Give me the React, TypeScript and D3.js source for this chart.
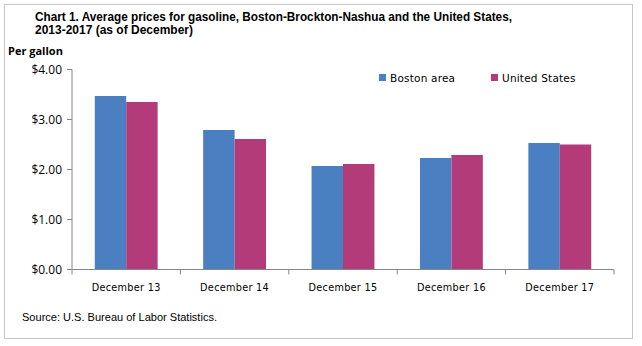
import React from "react";
import * as d3 from "d3";

const categories = ["December 13", "December 14", "December 15", "December 16", "December 17"];
const seriesNames = ["Boston area", "United States"];
const bostonValues = [3.47, 2.79, 2.07, 2.23, 2.53];
const usValues = [3.35, 2.61, 2.11, 2.29, 2.50];
const yTicks = [0, 1, 2, 3, 4];
const colors = ["#4a7fc2", "#b33b7a"];

const W = 642, H = 346;
const left = 72, right = 614, top = 69.5, bottom = 269.5;
const narrow = "'Liberation Sans', Arial, sans-serif";

export default function App() {
  const x0 = d3.scaleBand<string>().domain(categories).range([left, right]).paddingInner(0.42).paddingOuter(0.21);
  const x1 = d3.scaleBand<string>().domain(seriesNames).range([0, x0.bandwidth()]);
  const y = d3.scaleLinear().domain([0, 4]).range([bottom, top]);
  const series = [bostonValues, usValues];
  const step = (right - left) / categories.length;
  const boundaries = d3.range(categories.length + 1).map((i) => left + i * step);

  return (
    <svg width={W} height={H} style={{ position: "absolute", left: 0, top: 0, background: "#fff" }}>
      <rect x={4.5} y={4.5} width={628} height={334} fill="none" stroke="#8c8c8c" strokeDasharray="1 1" />
      <text x={35} y={20.5} fontFamily={narrow} fontWeight="bold" fontSize={12.5} textLength={477} lengthAdjust="spacingAndGlyphs" fill="#000">
        Chart 1. Average prices for gasoline, Boston-Brockton-Nashua  and the United States,
      </text>
      <text x={35} y={33.5} fontFamily={narrow} fontWeight="bold" fontSize={12.5} textLength={158} lengthAdjust="spacingAndGlyphs" fill="#000">
        2013-2017 (as of December)
      </text>
      <text x={8} y={55} fontFamily="'Open Sans', 'Noto Sans', sans-serif" fontWeight="bold" fontSize={11} fill="#000">
        Per gallon
      </text>
      {series.map((vals, si) =>
        vals.map((v, i) => (
          <rect
            key={`${si}-${i}`}
            x={(x0(categories[i]) as number) + (x1(seriesNames[si]) as number)}
            y={y(v)}
            width={x1.bandwidth()}
            height={y(0) - y(v)}
            fill={colors[si]}
          />
        ))
      )}
      <line x1={left} x2={left} y1={top} y2={bottom} stroke="#868686" />
      {yTicks.map((t) => (
        <g key={t}>
          <line x1={left - 5} x2={left} y1={y(t)} y2={y(t)} stroke="#868686" />
          <text x={62} y={y(t)} dy="0.35em" textAnchor="end" fontFamily="'Open Sans', 'Noto Sans', sans-serif" fontSize={12} fill="#000">
            {d3.format("$.2f")(t)}
          </text>
        </g>
      ))}
      <line x1={left} x2={right} y1={bottom} y2={bottom} stroke="#868686" />
      {boundaries.map((b, i) => (
        <line key={i} x1={b} x2={b} y1={bottom} y2={bottom + 5} stroke="#868686" />
      ))}
      {categories.map((c) => (
        <text key={c} x={(x0(c) as number) + x0.bandwidth() / 2} y={291} textAnchor="middle" fontFamily="'DejaVu Sans', Verdana, sans-serif" fontSize={9.7} letterSpacing={0.3} fill="#000">
          {c}
        </text>
      ))}
      {seriesNames.map((s, i) => {
        const lx = i === 0 ? 379 : 491;
        return (
          <g key={s}>
            <rect x={lx} y={74} width={7} height={7} fill={colors[i]} />
            <text x={lx + 11} y={82} fontFamily="'DejaVu Sans', Verdana, sans-serif" fontSize={10.5} letterSpacing={0.2} fill="#000">
              {s}
            </text>
          </g>
        );
      })}
      <text x={22} y={321} fontFamily={narrow} fontSize={11.5} textLength={195} lengthAdjust="spacingAndGlyphs" fill="#000">
        Source: U.S. Bureau of Labor Statistics.
      </text>
    </svg>
  );
}
